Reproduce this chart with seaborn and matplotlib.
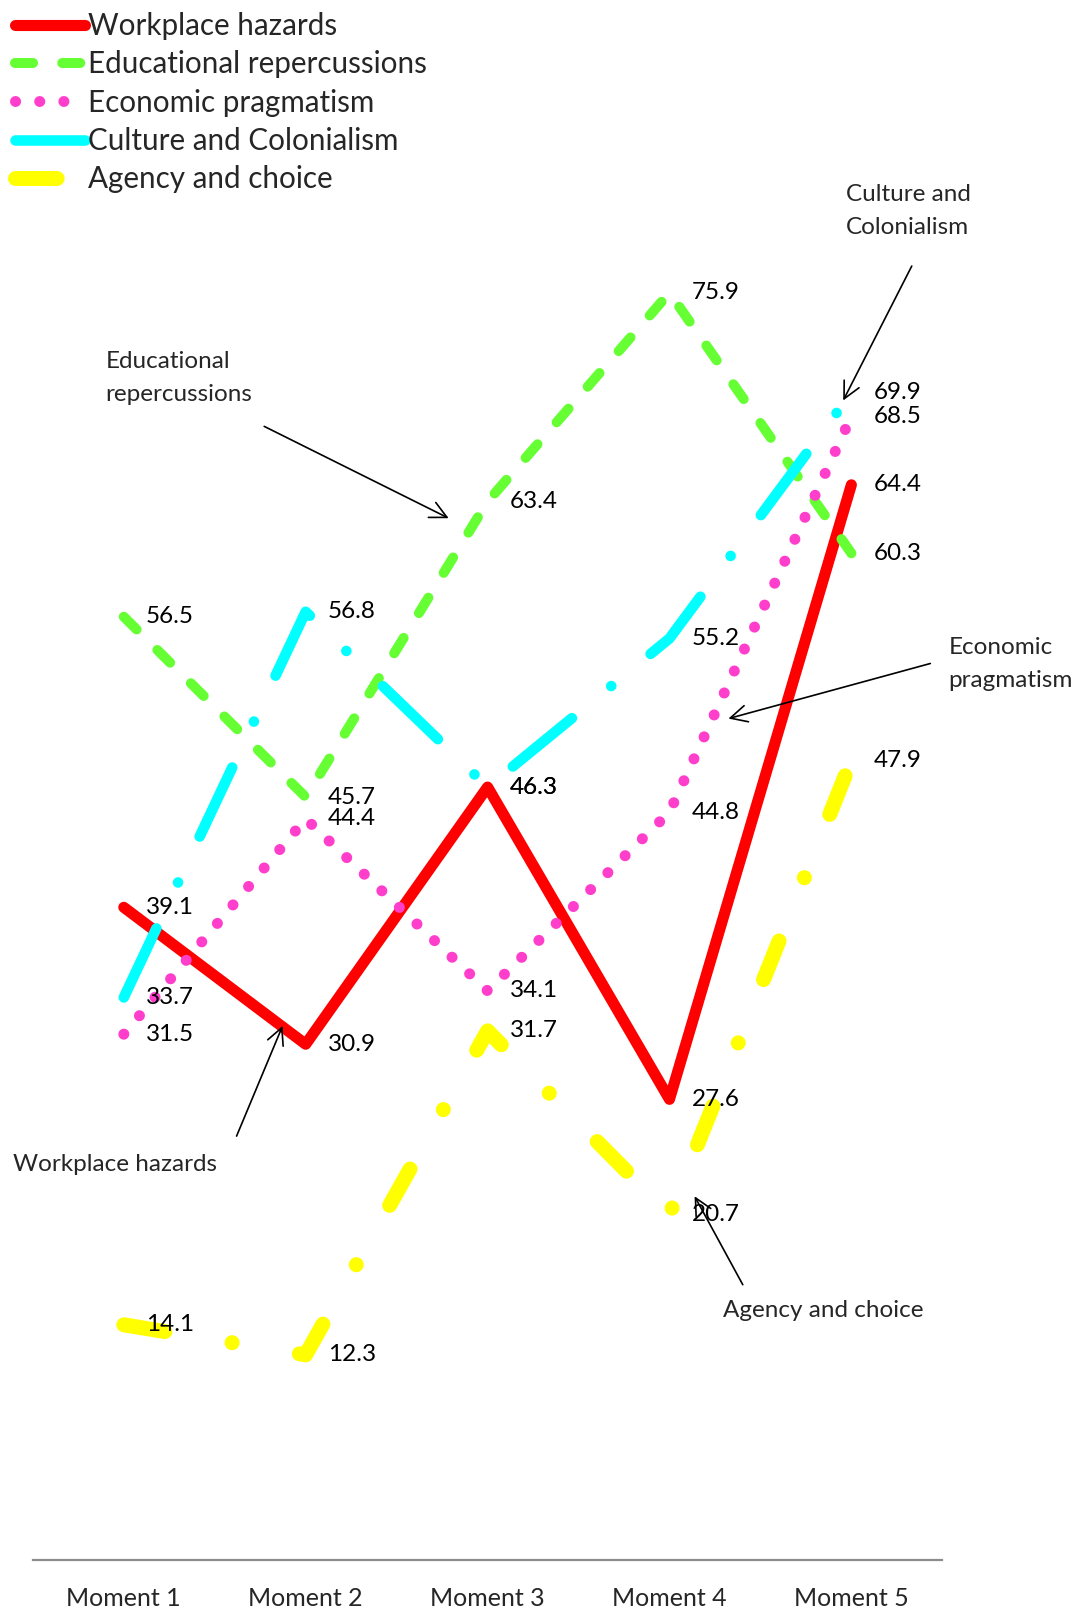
import matplotlib
matplotlib.use("Agg")
import matplotlib.pyplot as plt
import seaborn as sns
import pandas as pd

# values
moments = ["Moment 1", "Moment 2", "Moment 3", "Moment 4", "Moment 5"]
workplace = [39.1, 30.9, 46.3, 27.6, 64.4]
educational = [56.5, 45.7, 63.4, 75.9, 60.3]
economic = [31.5, 44.4, 34.1, 44.8, 68.5]
culture = [33.7, 56.8, 46.3, 55.2, 69.9]
agency = [14.1, 12.3, 31.7, 20.7, 47.9]

names = ["Workplace hazards", "Educational repercussions", "Economic pragmatism",
         "Culture and Colonialism", "Agency and choice"]
colors = ["#ff0000", "#66ff33", "#ff3fcc", "#00ffff", "#ffff00"]
widths = [8.0, 7.2, 7.9, 7.6, 10.8]
styles = ["-", (0, (13, 21)), (0, (0.1, 17.3)), (0, (55, 36.5, 0.1, 36.5)), (0, (30, 49, 0.1, 49))]

df = pd.DataFrame({"moment": moments, names[0]: workplace, names[1]: educational,
                   names[2]: economic, names[3]: culture, names[4]: agency})
long = df.melt(id_vars="moment", var_name="series", value_name="value")

sns.set_style("white")
plt.rcParams["font.family"] = ["Lato", "DejaVu Sans"]
plt.rcParams["lines.scale_dashes"] = False

fig = plt.figure(figsize=(10.84, 16.10), dpi=100)
ax = fig.add_axes([0.0303, 0.0309, 0.839, 0.9335])

for name, c, lw, ls in zip(names, colors, widths, styles):
    sub = long[long["series"] == name]
    sns.lineplot(data=sub, x="moment", y="value", color=c, linewidth=lw, linestyle=ls,
                 dash_capstyle="round", solid_capstyle="round", label=name, ax=ax, sort=False)
    for i, v in enumerate(sub["value"]):
        ax.annotate(f"{v}", xy=(i, v), xytext=(16, 0), textcoords="offset points",
                    va="center", ha="left", fontsize=17.5, color="black")

ax.set_xlim(-0.5, 4.5)
ax.set_ylim(0, 90)
ax.set_yticks([])
ax.set_xlabel("")
ax.set_ylabel("")
for s in ["left", "top", "right"]:
    ax.spines[s].set_visible(False)
ax.spines["bottom"].set_color("#8c8c8c")
ax.spines["bottom"].set_linewidth(1.6)
ax.tick_params(axis="x", length=0, pad=19, labelsize=18)

# callout labels with arrows
callouts = [
    ("Educational\nrepercussions", (-0.101, 70.8), (0.772, 67.9), (1.786, 62.4)),
    ("Culture and\nColonialism", (3.972, 80.8), (4.332, 77.5), (3.955, 69.45)),
    ("Economic\npragmatism", (4.535, 53.66), (4.434, 53.7), (3.324, 50.4)),
    ("Workplace hazards", (-0.608, 23.72), (0.62, 25.4), (0.873, 32.0)),
    ("Agency and choice", (3.296, 14.94), (3.403, 16.5), (3.138, 21.8)),
]
for txt, pos, tail, head in callouts:
    ax.text(pos[0], pos[1], txt, ha="left", va="center", fontsize=17.5, linespacing=1.68)
    ax.annotate("", xy=head, xytext=tail,
                arrowprops=dict(arrowstyle="->", color="black", lw=1.2, mutation_scale=30,
                                shrinkA=0, shrinkB=0))

ax.legend(loc="upper left", bbox_to_anchor=(0.014, 0.9925), bbox_transform=fig.transFigure,
          frameon=False, fontsize=21.3, handlelength=2.35, handletextpad=0.1,
          labelspacing=0.35, borderpad=0, borderaxespad=0)

fig.savefig("out.png", dpi=100)
